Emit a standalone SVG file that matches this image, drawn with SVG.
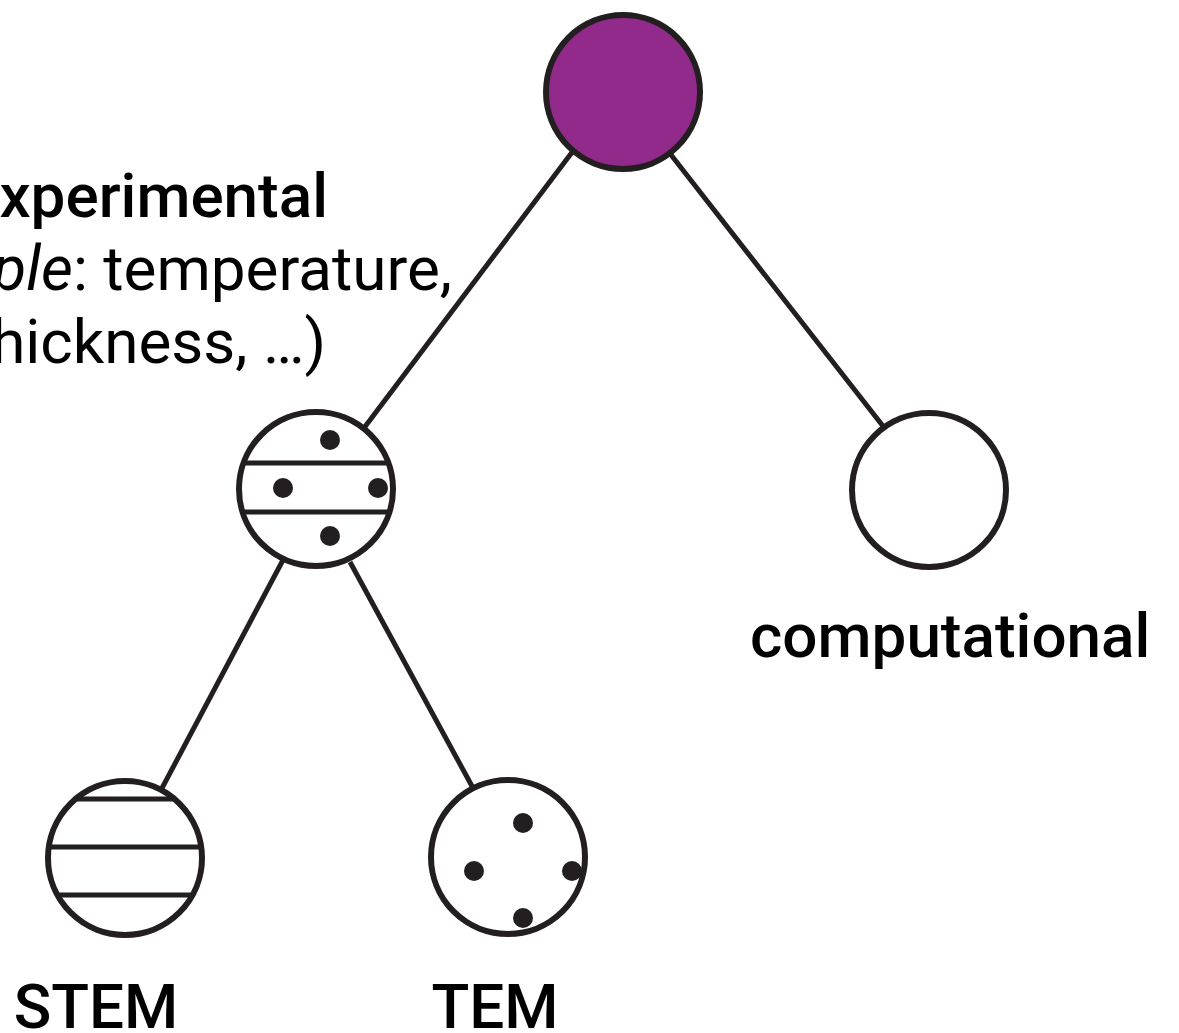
<svg xmlns="http://www.w3.org/2000/svg" width="1179" height="1033" viewBox="0 0 1179 1033">
<style>
.node{fill:#fff;stroke:#231f20;stroke-width:6}
.hl{stroke:#231f20;stroke-width:5}
.dot{fill:#231f20}
.edge{stroke:#231f20;stroke-width:5;fill:none}
text{font-family:Roboto,"Liberation Sans",sans-serif;fill:#000}
.lab{font-size:62px;font-weight:500}
.desc{font-size:62px;font-weight:400}
</style>
<rect width="1179" height="1033" fill="#fff"/>
<g id="connectors">
<line class="edge" x1="573" y1="151" x2="364" y2="428"/>
<line class="edge" x1="668" y1="151" x2="886" y2="430"/>
<line class="edge" x1="283" y1="560" x2="161" y2="790"/>
<line class="edge" x1="350" y1="562" x2="473" y2="788"/>
</g>
<g id="root">
<circle cx="623" cy="92" r="77" fill="#912a8a" stroke="#231f20" stroke-width="6"/>
</g>
<g id="experimental">
<circle class="node" cx="316" cy="489" r="77"/>
<line class="hl" x1="244" y1="463" x2="388" y2="463"/>
<line class="hl" x1="243" y1="512" x2="389" y2="512"/>
<circle class="dot" cx="330" cy="440" r="10"/>
<circle class="dot" cx="283" cy="488" r="10"/>
<circle class="dot" cx="378" cy="488" r="10"/>
<circle class="dot" cx="330" cy="536" r="10"/>
<text class="lab" x="328" y="217" text-anchor="end">experimental</text>
<text class="desc" x="452" y="290" text-anchor="end">(for <tspan font-style="italic">example</tspan>: temperature,</text>
<text class="desc" x="326" y="363" text-anchor="end">thickness, …)</text>
</g>
<g id="computational">
<circle class="node" cx="929" cy="490" r="77"/>
<text class="lab" x="750" y="657">computational</text>
</g>
<g id="stem">
<circle class="node" cx="125" cy="858" r="77"/>
<line class="hl" x1="76" y1="799" x2="174" y2="799"/>
<line class="hl" x1="49" y1="847" x2="201" y2="847"/>
<line class="hl" x1="58" y1="895" x2="192" y2="895"/>
<text class="lab" x="96" y="1028" text-anchor="middle">STEM</text>
</g>
<g id="tem">
<circle class="node" cx="508" cy="857" r="77"/>
<circle class="dot" cx="523" cy="823" r="10"/>
<circle class="dot" cx="474" cy="871" r="10"/>
<circle class="dot" cx="572" cy="871" r="10"/>
<circle class="dot" cx="523" cy="918" r="10"/>
<text class="lab" x="495" y="1028" text-anchor="middle">TEM</text>
</g>
</svg>
